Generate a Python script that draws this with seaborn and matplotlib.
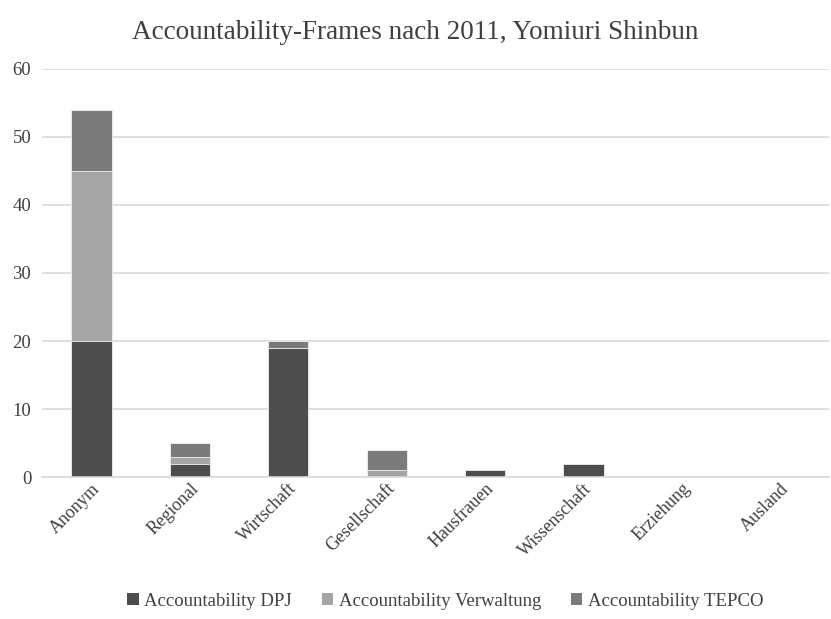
import matplotlib
matplotlib.use("Agg")
import matplotlib.pyplot as plt
import seaborn as sns
import pandas as pd
import numpy as np
from matplotlib.patches import Patch

categories = ["Anonym", "Regional", "Wirtschaft", "Gesellschaft", "Hausfrauen", "Wissenschaft", "Erziehung", "Ausland"]
dpj = [20, 2, 19, 0, 1, 2, 0, 0]
verwaltung = [25, 1, 0, 1, 0, 0, 0, 0]
tepco = [9, 2, 1, 3, 0, 0, 0, 0]
series_names = ["Accountability DPJ", "Accountability Verwaltung", "Accountability TEPCO"]
colors = ["#4d4d4d", "#a5a5a5", "#7b7b7b"]

sns.set_theme(style="white")
plt.rcParams['font.family'] = ['Liberation Serif', 'DejaVu Serif']

fig = plt.figure(figsize=(8.31, 6.19), dpi=100)
ax = fig.add_axes([0.051, 0.229, 0.947, 0.66])

d = np.array(dpj); v = np.array(verwaltung); t = np.array(tepco)
layers = [(d + v + t, colors[2]), (d + v, colors[1]), (d, colors[0])]
for vals, c in layers:
    df = pd.DataFrame({"cat": categories, "val": vals})
    sns.barplot(data=df, x="cat", y="val", color=c, ax=ax, width=0.41,
                edgecolor="#f2f2f2", linewidth=0.6, saturation=1)

ax.set_ylim(0, 60)
ax.set_yticks(range(0, 61, 10))
ax.yaxis.grid(True, color="#d9d9d9", linewidth=1.2)
ax.set_axisbelow(True)
for s in ["top", "right", "left"]:
    ax.spines[s].set_visible(False)
ax.spines["bottom"].set_color("#d9d9d9")
ax.spines["bottom"].set_linewidth(1.2)
ax.set_xlabel("")
ax.set_ylabel("")
ax.tick_params(axis="y", labelsize=13.5, colors="#404040", length=0, pad=8)
ax.tick_params(axis="x", labelsize=13, colors="#404040", length=0, pad=2)
plt.setp(ax.get_xticklabels(), rotation=45, ha="right", rotation_mode="anchor")
ax.set_xlim(-0.5, 7.5)

fig.suptitle("Accountability-Frames nach 2011, Yomiuri Shinbun", y=0.967, fontsize=19.5, color="#404040")

handles = [Patch(facecolor=c, edgecolor="none") for c in colors]
fig.legend(handles, series_names, loc="lower center", bbox_to_anchor=(0.536, -0.012), ncol=3,
           frameon=False, fontsize=13.5, handlelength=0.6, handleheight=0.6, handletextpad=0.3,
           columnspacing=1.6, labelcolor="#404040")

fig.savefig("out.png", dpi=100)
